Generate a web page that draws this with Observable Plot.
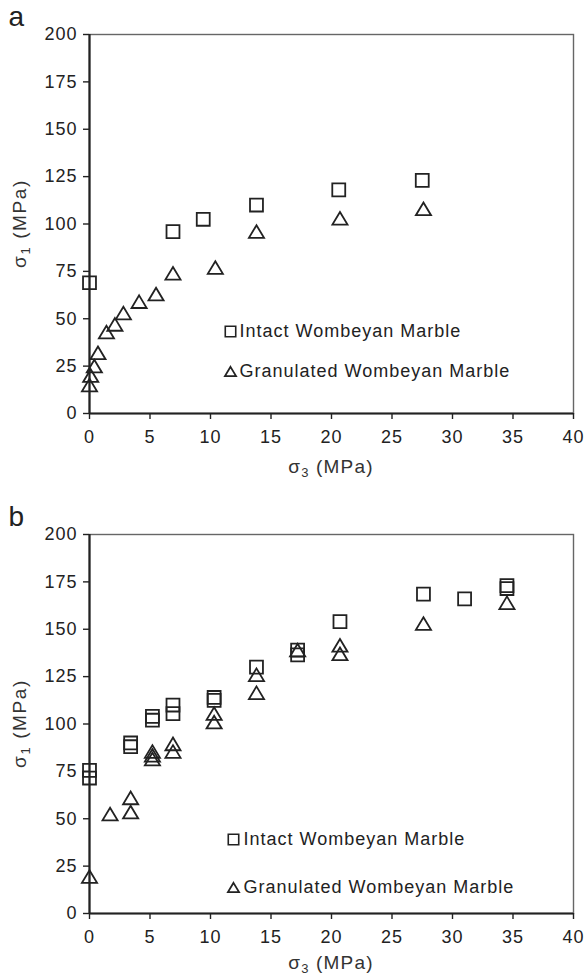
<!DOCTYPE html>
<html>
<head>
<meta charset="utf-8">
<script src="https://cdn.jsdelivr.net/npm/d3@7"></script>
<script src="https://cdn.jsdelivr.net/npm/@observablehq/plot@0.6"></script>
<style>
  body { margin: 0; background: #fff; }
  svg { display: block; }
</style>
</head>
<body>
<div id="chart"></div>
<script>
// ---- tick values ----
const xTicks = [0, 5, 10, 15, 20, 25, 30, 35, 40];
const yTicks = [0, 25, 50, 75, 100, 125, 150, 175, 200];

// ---- series names ----
const seriesNames = ["Intact Wombeyan Marble", "Granulated Wombeyan Marble"];

// ---- panel a ----
const aIntactX = [0, 6.9, 9.4, 13.8, 20.6, 27.5];
const aIntactY = [69, 96, 102.5, 110, 118, 123];
const aGranX = [0, 0.1, 0.4, 0.7, 1.4, 2.1, 2.8, 4.1, 5.5, 6.9, 10.4, 13.8, 20.7, 27.6];
const aGranY = [15, 20, 25, 32, 43, 47, 53, 59, 63, 74, 77, 96, 103, 108];

// ---- panel b ----
const bIntactX = [0, 0, 3.4, 3.4, 5.2, 5.2, 6.9, 6.9, 10.3, 10.3, 13.8, 17.2, 17.2, 20.7, 27.6, 31.0, 34.5, 34.5];
const bIntactY = [75.5, 71.5, 90, 88, 104, 102, 110, 105.5, 114, 112.5, 130, 139, 136.5, 154, 168.5, 166, 173, 171.5];
const bGranX = [0, 1.7, 3.4, 3.4, 5.2, 5.2, 5.2, 6.9, 6.9, 10.3, 10.3, 13.8, 13.8, 17.2, 20.7, 20.7, 27.6, 34.5];
const bGranY = [19.5, 52.5, 61, 53.5, 85.5, 83.5, 81.5, 89.5, 85.5, 105.5, 101, 126, 116.5, 139, 141.5, 137, 153, 164];

const INK = "#222";
const FONT = "'Liberation Sans', Arial, Helvetica, sans-serif";

// triangle centered on its bounding box
const triangleSym = {
  draw(context, size) {
    const r = Math.sqrt(size / Math.PI);
    const hw = r * 1.35, hh = r * 1.13;
    context.moveTo(0, -hh);
    context.lineTo(hw, hh);
    context.lineTo(-hw, hh);
    context.closePath();
  }
};

function pts(xs, ys) { return xs.map((x, i) => ({x, y: ys[i]})); }

function panel(opts) {
  const {letter, intact, gran, marginTop, marginBottom, legend, xLabelY, yLabelY, letterDy} = opts;
  const W = 585, H = 488, mL = 89, mR = 12;
  const chart = Plot.plot({
    width: W, height: H,
    marginTop, marginBottom, marginLeft: mL, marginRight: mR,
    style: {fontFamily: FONT, fontSize: "18px", color: INK, letterSpacing: "1px", background: "#fff"},
    x: {domain: [0, 40]},
    y: {domain: [0, 200]},
    marks: [
      Plot.frame({stroke: "#666", strokeWidth: 1.4}),
      Plot.axisX({ticks: xTicks, tickSize: 6, tickPadding: 11, tickFormat: d => d, label: null, stroke: INK, strokeWidth: 1.4, fill: INK, fontSize: 18}),
      Plot.axisY({ticks: yTicks, tickSize: 6, tickPadding: 6, tickFormat: d => d, label: null, stroke: INK, strokeWidth: 1.4, fill: INK, fontSize: 18}),
      Plot.ruleX([0], {stroke: INK, strokeWidth: 2.2}),
      Plot.ruleY([0], {stroke: INK, strokeWidth: 2.2}),
      Plot.dot(intact, {x: "x", y: "y", symbol: "square", r: 7.3, fill: "none", stroke: INK, strokeWidth: 1.8}),
      Plot.dot(gran, {x: "x", y: "y", symbol: triangleSym, r: 5.6, fill: "none", stroke: INK, strokeWidth: 1.8}),
      // legend
      Plot.dot([seriesNames[0]], {frameAnchor: "bottom-left", dx: legend.mx, dy: legend.dy1, symbol: "square", r: 5.9, fill: "none", stroke: INK, strokeWidth: 1.6}),
      Plot.dot([seriesNames[1]], {frameAnchor: "bottom-left", dx: legend.mx, dy: legend.dy2, symbol: triangleSym, r: 4.1, fill: "none", stroke: INK, strokeWidth: 1.8}),
      Plot.text([seriesNames[0]], {frameAnchor: "bottom-left", text: d => d, dx: legend.tx, dy: legend.dy1, textAnchor: "start", lineAnchor: "middle", fontSize: 18, fill: INK}),
      Plot.text([seriesNames[1]], {frameAnchor: "bottom-left", text: d => d, dx: legend.tx, dy: legend.dy2, textAnchor: "start", lineAnchor: "middle", fontSize: 18, fill: INK}),
      // panel letter
      Plot.text([letter], {frameAnchor: "top-left", text: d => d, dx: 8 - mL, dy: letterDy, textAnchor: "start", lineAnchor: "bottom", fontSize: 28, fill: INK})
    ]
  });
  const svg = d3.select(chart);
  // x axis label with subscript
  const cx = mL + (W - mL - mR) / 2;
  const xl = svg.append("text")
    .attr("x", cx).attr("y", xLabelY)
    .attr("text-anchor", "middle")
    .attr("fill", "#333")
    .style("font-size", "19px").style("letter-spacing", "1.2px");
  xl.append("tspan").text("σ");
  xl.append("tspan").attr("dy", 4).style("font-size", "13px").text("3");
  xl.append("tspan").attr("dy", -4).text(" (MPa)");
  // y axis label with subscript
  const yl = svg.append("text")
    .attr("transform", `translate(26,${yLabelY}) rotate(-90)`)
    .attr("text-anchor", "middle")
    .attr("fill", "#333")
    .style("font-size", "19px").style("letter-spacing", "1.6px");
  yl.append("tspan").text("σ");
  yl.append("tspan").attr("dy", 4).style("font-size", "13px").text("1");
  yl.append("tspan").attr("dy", -4).text(" (MPa)");
  return chart;
}

const root = document.getElementById("chart");
root.appendChild(panel({
  letter: "a",
  intact: pts(aIntactX, aIntactY),
  gran: pts(aGranX, aGranY),
  marginTop: 34, marginBottom: 75,
  legend: {mx: 141, tx: 150, dy1: -82, dy2: -42},
  xLabelY: 473, yLabelY: 223.5, letterDy: -9
}));
root.appendChild(panel({
  letter: "b",
  intact: pts(bIntactX, bIntactY),
  gran: pts(bGranX, bGranY),
  marginTop: 46, marginBottom: 63,
  legend: {mx: 144, tx: 154, dy1: -74, dy2: -26},
  xLabelY: 481, yLabelY: 235.5, letterDy: -8.5
}));
</script>
</body>
</html>
